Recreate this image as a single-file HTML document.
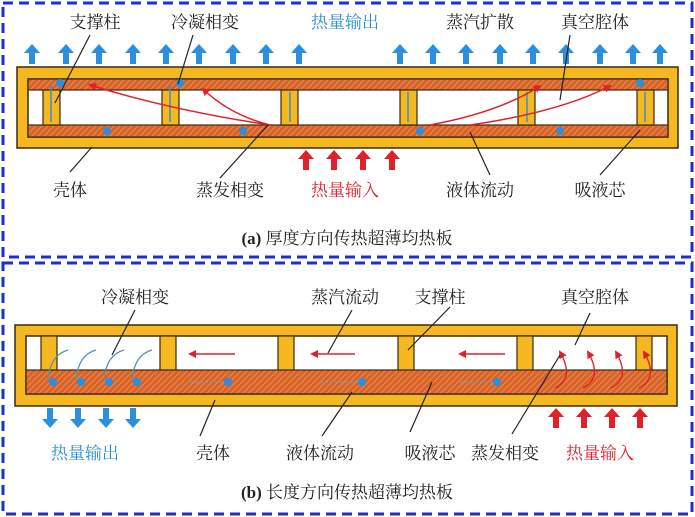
<!DOCTYPE html>
<html><head><meta charset="utf-8"><style>
html,body{margin:0;padding:0;background:#fff;}
svg{display:block;}
text{font-family:"Liberation Serif","Noto Serif CJK SC",serif;font-size:17px;fill:#222;}
</style></head><body>
<svg width="695" height="517" viewBox="0 0 695 517" xmlns="http://www.w3.org/2000/svg">
<defs>
<pattern id="wk" width="6" height="6" patternUnits="userSpaceOnUse">
<rect width="6" height="6" fill="#d9622a"/>
<path d="M0 6L6 0M-1 1L1 -1M5 7L7 5" stroke="#e88c4a" stroke-width="1"/>
</pattern>
<marker id="ra" markerWidth="8" markerHeight="8" refX="6" refY="4" orient="auto" markerUnits="userSpaceOnUse"><path d="M0 0L8 4L0 8z" fill="#e0202a"/></marker>
<g id="ua" fill="#2a8fe0"><rect x="-3" y="52" width="6" height="12"/><path d="M-8 53L0 44L8 53z"/></g>
<g id="ra2" fill="#e0202a"><rect x="-3" y="158" width="6" height="12"/><path d="M-8 159L0 150L8 159z"/></g>
<g id="da" fill="#2a8fe0"><rect x="-3" y="408" width="6" height="12"/><path d="M-8 419L0 428L8 419z"/></g>
</defs>
<rect x="3" y="3" width="689" height="254" fill="none" stroke="#1a2fd0" stroke-width="3" stroke-dasharray="10,6"/>
<rect x="3" y="263" width="689" height="251" fill="none" stroke="#1a2fd0" stroke-width="3" stroke-dasharray="10,6"/>

<use href="#ua" x="32"/><use href="#ua" x="66"/><use href="#ua" x="99"/><use href="#ua" x="133"/><use href="#ua" x="166"/><use href="#ua" x="199"/><use href="#ua" x="233"/><use href="#ua" x="266"/><use href="#ua" x="299"/><use href="#ua" x="400"/><use href="#ua" x="433"/><use href="#ua" x="466"/><use href="#ua" x="500"/><use href="#ua" x="533"/><use href="#ua" x="566"/><use href="#ua" x="600"/><use href="#ua" x="633"/><use href="#ua" x="660"/>
<rect x="17" y="67" width="661" height="81" fill="#f5b820" stroke="#3a2a10" stroke-width="1.5"/>
<rect x="28" y="79" width="640" height="58" fill="#fff" stroke="#3a2a10" stroke-width="1.5"/>
<rect x="28" y="79" width="640" height="11" fill="url(#wk)" stroke="#3a2a10" stroke-width="1.2"/>
<rect x="28" y="125" width="640" height="12" fill="url(#wk)" stroke="#3a2a10" stroke-width="1.2"/>
<g fill="#f5b820" stroke="#3a2a10" stroke-width="1.2">
<rect x="43" y="90" width="17" height="35"/><rect x="162" y="90" width="17" height="35"/><rect x="281" y="90" width="17" height="35"/><rect x="400" y="90" width="17" height="35"/><rect x="518" y="90" width="17" height="35"/><rect x="637" y="90" width="17" height="35"/>
</g>
<g stroke="#3a8fd0" stroke-width="1.5"><line x1="51" y1="85" x2="51" y2="122"/><line x1="170" y1="85" x2="170" y2="122"/><line x1="290" y1="92" x2="290" y2="122"/><line x1="408" y1="92" x2="408" y2="122"/><line x1="527" y1="92" x2="527" y2="122"/><line x1="645" y1="92" x2="645" y2="122"/></g>
<g fill="#2a8fe0"><circle cx="60" cy="83" r="4"/><circle cx="180" cy="83" r="4"/><circle cx="107" cy="131" r="4"/><circle cx="243" cy="131" r="4"/><circle cx="420" cy="131" r="4"/><circle cx="560" cy="131" r="4"/><circle cx="640" cy="83" r="4"/></g>
<g fill="none" stroke="#e0202a" stroke-width="1.5" marker-end="url(#ra)">
<path d="M270 125 Q170 110 90 85"/><path d="M270 125 Q230 115 203 89"/><path d="M430 125 Q500 112 540 86"/><path d="M470 125 Q560 112 610 86"/>
</g>
<use href="#ra2" x="306"/><use href="#ra2" x="334"/><use href="#ra2" x="363"/><use href="#ra2" x="392"/>
<g stroke="#222" stroke-width="1.2">
<line x1="90" y1="35" x2="55" y2="103"/><line x1="193" y1="35" x2="178" y2="84"/><line x1="570" y1="35" x2="560" y2="100"/><line x1="600" y1="175" x2="640" y2="130"/><line x1="490" y1="175" x2="470" y2="132"/><line x1="70" y1="172" x2="92" y2="147"/><line x1="220" y1="178" x2="268" y2="125"/>
</g>
<text x="95" y="28" text-anchor="middle">支撑柱</text>
<text x="205" y="28" text-anchor="middle">冷凝相变</text>
<text x="345" y="28" text-anchor="middle" style="fill:#2a8fd0">热量输出</text>
<text x="480" y="28" text-anchor="middle">蒸汽扩散</text>
<text x="595" y="28" text-anchor="middle">真空腔体</text>
<text x="70" y="196" text-anchor="middle">壳体</text>
<text x="230" y="196" text-anchor="middle">蒸发相变</text>
<text x="345" y="196" text-anchor="middle" style="fill:#e0202a">热量输入</text>
<text x="480" y="196" text-anchor="middle">液体流动</text>
<text x="600" y="196" text-anchor="middle">吸液芯</text>
<text x="347" y="244" text-anchor="middle"><tspan font-weight="bold">(a)</tspan> 厚度方向传热超薄均热板</text>

<rect x="15" y="325" width="662" height="81" fill="#f5b820" stroke="#3a2a10" stroke-width="1.5"/>
<rect x="26" y="336" width="641" height="58" fill="#fff" stroke="#3a2a10" stroke-width="1.5"/>
<rect x="26" y="370" width="641" height="24" fill="url(#wk)" stroke="#3a2a10" stroke-width="1.2"/>
<g fill="#f5b820" stroke="#3a2a10" stroke-width="1.2">
<rect x="41" y="336" width="16" height="34"/><rect x="160" y="336" width="16" height="34"/><rect x="278" y="336" width="16" height="34"/><rect x="398" y="336" width="16" height="34"/><rect x="517" y="336" width="16" height="34"/><rect x="636" y="336" width="16" height="34"/>
</g>
<g fill="none" stroke="#5a90b0" stroke-width="1.3">
<path d="M48 380 Q50 355 68 350"/><path d="M76 380 Q78 355 96 350"/><path d="M104 380 Q106 355 124 350"/><path d="M132 380 Q134 355 152 350"/>
</g>
<g fill="#2a8fe0"><circle cx="53" cy="382" r="4"/><circle cx="81" cy="382" r="4"/><circle cx="109" cy="382" r="4"/><circle cx="137" cy="382" r="4"/><circle cx="228" cy="382" r="4"/><circle cx="362" cy="382" r="4"/><circle cx="497" cy="382" r="4"/></g>
<g stroke="#7a9ab8" stroke-width="1.2" stroke-dasharray="3,2"><line x1="190" y1="382" x2="224" y2="382"/><line x1="320" y1="382" x2="358" y2="382"/><line x1="460" y1="382" x2="493" y2="382"/></g>
<g stroke="#e0202a" stroke-width="1.5" marker-end="url(#ra)">
<line x1="235" y1="354" x2="190" y2="354"/><line x1="355" y1="354" x2="312" y2="354"/><line x1="505" y1="354" x2="460" y2="354"/>
</g>
<g fill="none" stroke="#e0202a" stroke-width="1.3" marker-end="url(#ra)">
<path d="M555 388 Q575 378 560 352"/><path d="M583 388 Q603 378 588 352"/><path d="M611 388 Q631 378 616 352"/><path d="M639 388 Q659 378 644 352"/>
</g>
<use href="#da" x="50"/><use href="#da" x="78"/><use href="#da" x="106"/><use href="#da" x="133"/>
<use href="#ra2" x="556" y="258"/><use href="#ra2" x="584" y="258"/><use href="#ra2" x="612" y="258"/><use href="#ra2" x="640" y="258"/>
<g stroke="#222" stroke-width="1.2">
<line x1="135" y1="310" x2="112" y2="355"/><line x1="352" y1="310" x2="328" y2="353"/><line x1="450" y1="307" x2="408" y2="350"/><line x1="590" y1="313" x2="575" y2="345"/><line x1="200" y1="436" x2="215" y2="400"/><line x1="322" y1="436" x2="352" y2="392"/><line x1="410" y1="432" x2="432" y2="382"/><line x1="512" y1="434" x2="560" y2="355"/>
</g>
<text x="135" y="303" text-anchor="middle">冷凝相变</text>
<text x="345" y="303" text-anchor="middle">蒸汽流动</text>
<text x="440" y="303" text-anchor="middle">支撑柱</text>
<text x="595" y="303" text-anchor="middle">真空腔体</text>
<text x="85" y="459" text-anchor="middle" style="fill:#2a8fd0">热量输出</text>
<text x="213" y="459" text-anchor="middle">壳体</text>
<text x="320" y="459" text-anchor="middle">液体流动</text>
<text x="430" y="459" text-anchor="middle">吸液芯</text>
<text x="505" y="459" text-anchor="middle">蒸发相变</text>
<text x="600" y="459" text-anchor="middle" style="fill:#e0202a">热量输入</text>
<text x="347" y="498" text-anchor="middle"><tspan font-weight="bold">(b)</tspan> 长度方向传热超薄均热板</text>
</svg>
</body></html>
